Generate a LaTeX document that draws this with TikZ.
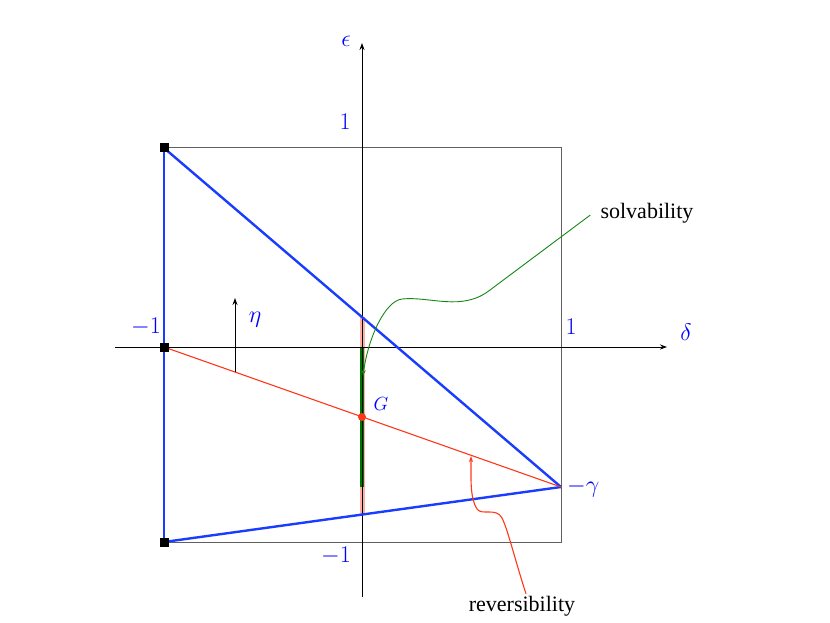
\RequirePackage{fix-cm}
\documentclass[tikz,border=0pt]{standalone}
\usepackage[no-math]{fontspec}
\setmainfont{Liberation Serif}
\usetikzlibrary{arrows.meta}
\definecolor{myblue}{RGB}{25,60,255}
\definecolor{myred}{RGB}{255,55,25}
\definecolor{mygreen}{RGB}{20,135,20}
\definecolor{darkgreen}{RGB}{0,115,0}
\definecolor{labblue}{RGB}{0,0,255}
\begin{document}
\begin{tikzpicture}[x=1pt,y=-1pt,
  lab/.style={text=labblue,font=\fontsize{24}{28}\selectfont,inner sep=0pt},
  axisline/.style={line width=0.9pt,-{Stealth[length=7pt,width=5pt]}},
  bluethick/.style={myblue,line width=2.4pt},
  redthin/.style={myred,line width=1.1pt},
  corner/.style={fill=black,minimum size=9pt,inner sep=0pt,draw=none},
  txt/.style={font=\fontsize{22}{26}\selectfont,inner sep=0pt}]
\useasboundingbox (0,0) rectangle (830,623);
% coordinates
\coordinate (A) at (164,148);
\coordinate (B) at (164,347);
\coordinate (C) at (164,542);
\coordinate (D) at (561,487);
\coordinate (O) at (362,347);
\coordinate (P) at (362,317);
\coordinate (Q) at (362,515);
\coordinate (Gp) at (362,417);
\coordinate (Gm) at (362,487);
\coordinate (xl) at (115,347);
\coordinate (xr) at (667,347);
\coordinate (yb) at (362,597);
\coordinate (yt) at (362,43);
\coordinate (eb) at (235,372);
\coordinate (et) at (235,298);
% box
\draw[gray!75!black,line width=0.7pt] (164,147) rectangle (561,542);
% segments on epsilon axis
\draw[myred,opacity=0.4,line width=5pt] (P) -- (Q);
\draw[darkgreen,line width=3.2pt] (O) -- (Gm);
% axes
\draw[axisline] (xl) -- (xr);
\draw[axisline] (yb) -- (yt);
% triangle
\draw[bluethick] (A) -- (C);
\draw[bluethick] (A) -- (D);
\draw[bluethick] (C) -- (D);
% red line
\draw[redthin] (B) -- (D);
% eta arrow
\draw[line width=0.9pt,-{Stealth[length=7pt,width=5pt]}] (eb) -- (et);
% corners
\node[corner] at (A) {};
\node[corner] at (B) {};
\node[corner] at (C) {};
\fill[myred] (Gp) circle (4pt);
% labels
\node[lab] (leps) at (346,41) {$\epsilon$};
\node[lab] (l1t) at (345,122) {$1$};
\node[lab] (lm1l) at (146,327) {$-1$};
\node[lab] (l1r) at (571,327) {$1$};
\node[lab] (ldel) at (686,332) {$\delta$};
\node[lab] (lm1b) at (336,556) {$-1$};
\node[lab,anchor=west] (lgam) at (567,488) {$-\gamma$};
\node[lab] (leta) at (255,320) {$\eta$};
\node[lab,font=\fontsize{19}{23}\selectfont] (lG) at (381,404) {$G$};
% annotations
\node[txt] (solv) at (647,213) {solvability};
\node[txt] (rev) at (522,606) {reversibility};
\coordinate (sa) at (363,376);
\coordinate (ra) at (471,456);
\draw[mygreen,line width=0.9pt,-{Stealth[length=6pt,width=4pt]}]
  (solv.west) ++(-10,2) -- (490,290) .. controls (462,312) and (430,296) .. (402,299)
  .. controls (385,301) and (368,338) .. (sa);
\draw[redthin,-{Stealth[length=6pt,width=4pt]}]
  (rev.north) ++(4,-2) .. controls (515,560) and (508,530) .. (502,518)
  .. controls (496,507) and (482,516) .. (477,509)
  .. controls (470,498) and (471,480) .. (ra);
\end{tikzpicture}
\end{document}
